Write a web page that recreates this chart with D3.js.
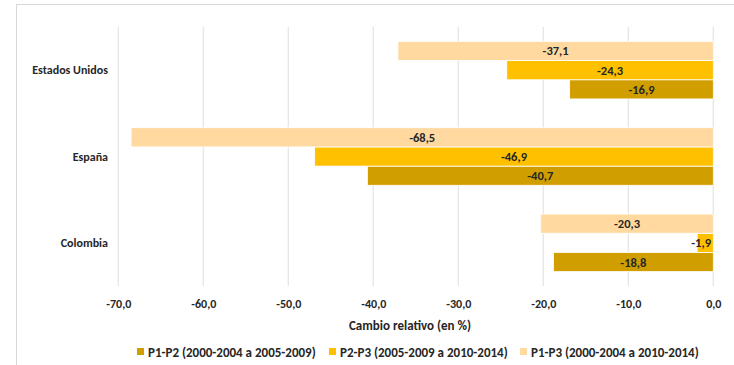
<!DOCTYPE html>
<html>
<head>
<meta charset="utf-8">
<script src="https://cdn.jsdelivr.net/npm/d3@7"></script>
<style>
  html, body { margin: 0; padding: 0; background: #fff; }
  svg { display: block; }
  text { font-family: Carlito, Calibri, "Liberation Sans Narrow", "DejaVu Sans Condensed", sans-serif; fill: #262626; }
</style>
</head>
<body>
<svg id="chart" width="734" height="365"></svg>
<script>
// Countries, top to bottom
const countries = ["Estados Unidos", "España", "Colombia"];
// Series, in legend order
const seriesNames = ["P1-P2 (2000-2004 a 2005-2009)", "P2-P3 (2005-2009 a 2010-2014)", "P1-P3 (2000-2004 a 2010-2014)"];
const seriesColors = ["#D19E00", "#FFC000", "#FFD9A0"];
// Relative change (%) per country, one array per series
const p1p2 = [-16.9, -40.7, -18.8];
const p2p3 = [-24.3, -46.9, -1.9];
const p1p3 = [-37.1, -68.5, -20.3];
const seriesValues = [p1p2, p2p3, p1p3];
// Axis ticks
const xTicks = [-70, -60, -50, -40, -30, -20, -10, 0];

const svg = d3.select("#chart");
const fmt = v => d3.format(".1f")(v).replace(".", ",").replace("−", "-");

// Chart frame
svg.append("rect")
  .attr("x", 16.5).attr("y", 4.5).attr("width", 760).attr("height", 400)
  .attr("fill", "none").attr("stroke", "#d9d9d9").attr("stroke-width", 1);

const plot = { left: 118.3, right: 713.3, top: 27, bottom: 286 };

const x = d3.scaleLinear().domain([-70, 0]).range([plot.left, plot.right]);
const y = d3.scaleBand().domain(countries).range([plot.top, plot.bottom])
  .paddingInner(1 / 3).paddingOuter(1 / 6);
// Within a country: P1-P3 on top, then P2-P3, then P1-P2
const stackOrder = [2, 1, 0];
const ySub = d3.scaleBand().domain(stackOrder).range([0, y.bandwidth()]);

// Vertical gridlines
svg.append("g").selectAll("line").data(xTicks).join("line")
  .attr("x1", d => x(d)).attr("x2", d => x(d))
  .attr("y1", plot.top).attr("y2", plot.bottom)
  .attr("stroke", "#e6e6e6").attr("stroke-width", 1.3);

// Tick labels
const xAxis = d3.axisBottom(x).tickValues(xTicks).tickFormat(fmt).tickSize(0).tickPadding(0);
const gx = svg.append("g").attr("transform", `translate(0,${plot.bottom + 13})`).call(xAxis);
gx.select(".domain").remove();
gx.selectAll("text").attr("font-size", 12).attr("font-weight", "bold").attr("fill", "#262626")
  .style("font-family", null);

// Axis title
svg.append("text").attr("x", 410).attr("y", 330)
  .attr("text-anchor", "middle").attr("font-size", 13).attr("font-weight", "bold")
  .text("Cambio relativo (en %)");

// Category labels
svg.append("g").selectAll("text").data(countries).join("text")
  .attr("x", 108).attr("y", d => y(d) + y.bandwidth() / 2 + 4)
  .attr("text-anchor", "end").attr("font-size", 12).attr("font-weight", "bold")
  .text(d => d);

// Bars and value labels
const rows = [];
seriesValues.forEach((vals, s) => vals.forEach((v, i) => rows.push({ s, country: countries[i], v })));

svg.append("g").selectAll("rect").data(rows).join("rect")
  .attr("x", d => x(d.v)).attr("width", d => x(0) - x(d.v))
  .attr("y", d => y(d.country) + ySub(d.s)).attr("height", ySub.bandwidth())
  .attr("fill", d => seriesColors[d.s])
  .attr("stroke", "#ffffff").attr("stroke-width", 0.8);

svg.append("g").selectAll("text").data(rows).join("text")
  .attr("x", d => d.v > -3 ? x(d.v) + 4 : (x(d.v) + x(0)) / 2)
  .attr("y", d => y(d.country) + ySub(d.s) + ySub.bandwidth() / 2 + 4.5)
  .attr("text-anchor", "middle").attr("font-size", 12.5).attr("font-weight", "bold")
  .text(d => fmt(d.v));

// Legend
const legendX = [137, 329, 520];
const lg = svg.append("g").selectAll("g").data(seriesNames).join("g")
  .attr("transform", (d, i) => `translate(${legendX[i]},352)`);
lg.append("rect").attr("x", 0).attr("y", -4).attr("width", 7).attr("height", 7)
  .attr("fill", (d, i) => seriesColors[i]);
lg.append("text").attr("x", 11).attr("y", 4.5).attr("font-size", 13).attr("font-weight", "bold")
  .text(d => d);
</script>
</body>
</html>
